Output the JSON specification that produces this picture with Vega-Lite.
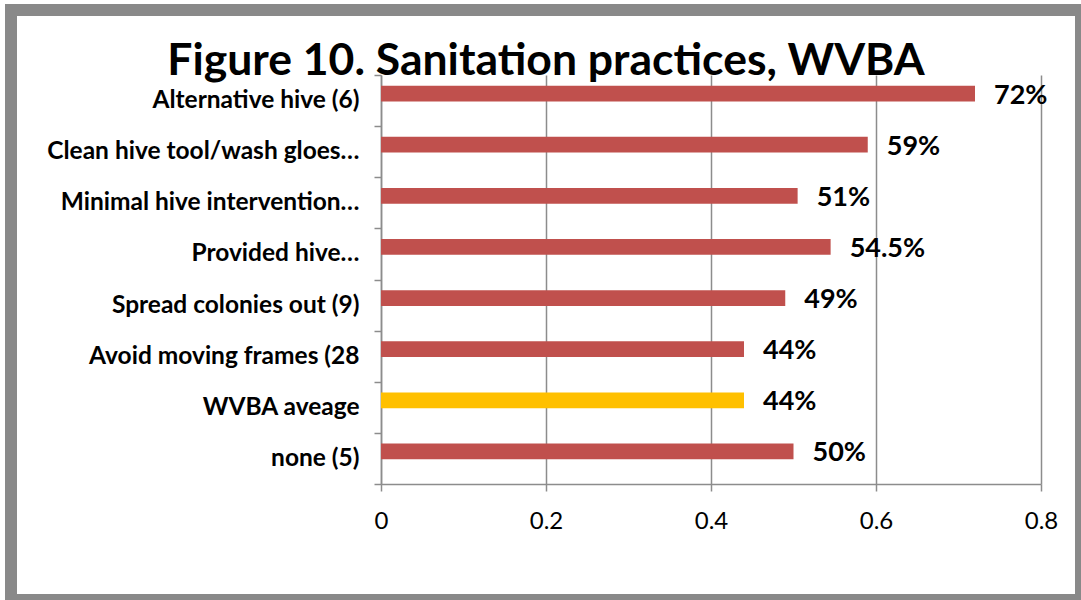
{
  "$schema": "https://vega.github.io/schema/vega-lite/v6.json",
  "autosize": "none",
  "width": 1070,
  "height": 590,
  "padding": {"left": 11, "top": 10, "right": 0, "bottom": 0},
  "background": "white",
  "view": {"stroke": "#898989", "strokeWidth": 12, "fill": "white"},
  "title": {
    "text": "Figure 10. Sanitation practices, WVBA",
    "font": "Lato",
    "fontSize": 44.5,
    "fontWeight": "bold",
    "color": "black",
    "anchor": "middle",
    "frame": "group",
    "baseline": "alphabetic",
    "offset": -122
  },
  "data": {
    "values": [
      {"category": "Alternative hive (6)", "value": 0.72, "label": "72%", "type": "practice"},
      {"category": "Clean hive tool/wash gloes…", "value": 0.59, "label": "59%", "type": "practice"},
      {"category": "Minimal hive intervention…", "value": 0.505, "label": "51%", "type": "practice"},
      {"category": "Provided hive…", "value": 0.545, "label": "54.5%", "type": "practice"},
      {"category": "Spread colonies out (9)", "value": 0.49, "label": "49%", "type": "practice"},
      {"category": "Avoid moving frames (28", "value": 0.44, "label": "44%", "type": "practice"},
      {"category": "WVBA aveage", "value": 0.44, "label": "44%", "type": "average"},
      {"category": "none (5)", "value": 0.5, "label": "50%", "type": "practice"}
    ]
  },
  "encoding": {
    "y": {
      "field": "category",
      "type": "nominal",
      "sort": null,
      "scale": {"range": [65, 474], "paddingInner": 0, "paddingOuter": 0},
      "axis": {
        "title": null,
        "orient": "left",
        "offset": -370,
        "domainColor": "#8c8c8c",
        "domainWidth": 1.5,
        "tickColor": "#8c8c8c",
        "tickWidth": 1.5,
        "tickSize": 7,
        "tickBand": "extent",
        "labelFont": "Lato",
        "labelFontSize": 24.5,
        "labelFontWeight": "bold",
        "labelColor": "black",
        "labelPadding": 15,
        "labelLimit": 500,
        "grid": false
      }
    }
  },
  "layer": [
    {
      "mark": {"type": "bar", "height": {"band": 0.31}, "yOffset": -7},
      "encoding": {
        "x": {
          "field": "value",
          "type": "quantitative",
          "scale": {"domain": [0, 0.8], "range": [370, 1030], "nice": false},
          "axis": {
            "title": null,
            "orient": "bottom",
            "offset": -116,
            "values": [0, 0.2, 0.4, 0.6, 0.8],
            "format": ".1~f",
            "domainColor": "#8c8c8c",
            "domainWidth": 1.5,
            "tickColor": "#8c8c8c",
            "tickWidth": 1.5,
            "tickSize": 7,
            "grid": false,
            "labelFlush": false,
            "labelFont": "Lato",
            "labelFontSize": 24,
            "labelColor": "black",
            "labelPadding": 18
          }
        },
        "color": {
          "field": "type",
          "type": "nominal",
          "scale": {"domain": ["practice", "average"], "range": ["#C0504D", "#FFC000"]},
          "legend": null
        }
      }
    },
    {
      "mark": {
        "type": "text",
        "align": "left",
        "baseline": "middle",
        "dx": 19,
        "yOffset": -5,
        "font": "Lato",
        "fontSize": 27,
        "fontWeight": "bold",
        "color": "black"
      },
      "encoding": {
        "x": {
          "field": "value",
          "type": "quantitative",
          "axis": {
            "title": null,
            "orient": "bottom",
            "offset": -116,
            "values": [0, 0.2, 0.4, 0.6, 0.8],
            "domain": false,
            "labels": false,
            "grid": false,
            "tickColor": "#8c8c8c",
            "tickWidth": 1.5,
            "tickSize": -409
          }
        },
        "text": {"field": "label"}
      }
    }
  ],
  "resolve": {"axis": {"x": "independent"}}
}
